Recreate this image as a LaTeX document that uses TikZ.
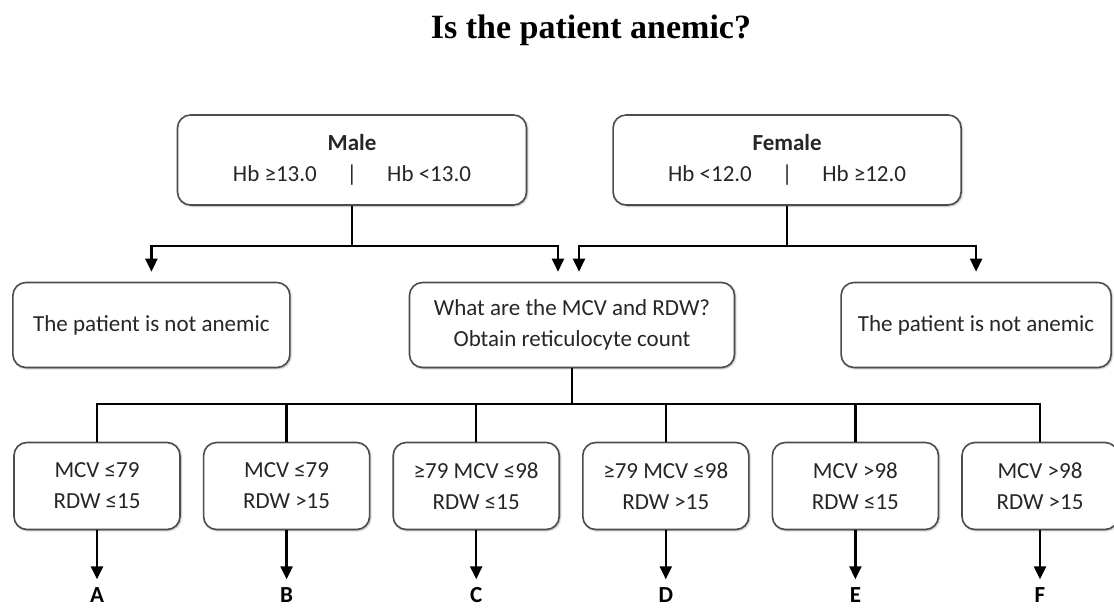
\documentclass[tikz,border=0pt]{standalone}
\usepackage{fontspec}
\setmainfont{Carlito}
\newfontfamily\titlefont{Liberation Serif}
\usetikzlibrary{shapes,arrows.meta,positioning,shadows.blur}
\tikzstyle{block} = [rectangle, draw=black!70, line width=1.6pt, fill=white,
    text=black!85, align=center, rounded corners=13pt,
    font=\fontsize{23}{31}\selectfont,
    blur shadow={shadow xshift=1pt, shadow yshift=-1pt, shadow blur steps=6, shadow opacity=35}]
\tikzstyle{test} = [block, minimum width=166pt, minimum height=87pt]
\tikzstyle{line} = [draw, line width=2.4pt]
\tikzstyle{arrow} = [line, -{Triangle[width=12pt,length=13pt]}]
\tikzstyle{letter} = [inner sep=0pt, font=\bfseries\fontsize{23}{23}\selectfont]

\begin{document}
\begin{tikzpicture}[x=1pt, y=-1pt, node distance=20pt]
  \useasboundingbox (0,0) rectangle (1114,609);
  \node [anchor=base, font=\titlefont\bfseries\fontsize{34}{40}\selectfont] (title) at (591,39) {Is the patient anemic?};

  \node [block, minimum width=349pt, minimum height=90pt] (male) at (352,160) {\textbf{Male}\\Hb ≥13.0\hspace{1.3em}|\hspace{1.3em}Hb <13.0};
  \node [block, minimum width=348pt, minimum height=90pt, right=85pt of male] (female) {\textbf{Female}\\Hb <12.0\hspace{1.3em}|\hspace{1.3em}Hb ≥12.0};

  \node [block, minimum width=325pt, minimum height=85pt] (mcv) at (572,325) {What are the MCV and RDW?\\Obtain reticulocyte count};
  \node [block, minimum width=277pt, minimum height=85pt, left=118pt of mcv] (notm) {The patient is not anemic};
  \node [block, minimum width=270pt, minimum height=85pt, right=105pt of mcv] (notf) {The patient is not anemic};

  \node [test] (a) at (97,486) {MCV ≤79\\RDW ≤15};
  \node [test, right=22pt of a] (b) {MCV ≤79\\RDW >15};
  \node [test, right=22pt of b] (c) {≥79 MCV ≤98\\RDW ≤15};
  \node [test, right=22pt of c] (d) {≥79 MCV ≤98\\RDW >15};
  \node [test, right=22pt of d] (e) {MCV >98\\RDW ≤15};
  \node [test, right=22pt of e, minimum width=156pt] (f) {MCV >98\\RDW >15};

  \foreach \x/\l in {a/A, b/B, c/C, d/D, e/E, f/F}
    \node [letter, below=57pt of \x] (l\x) {\l};

  \coordinate [below=40pt of male] (mj);
  \coordinate [below=40pt of female] (fj);
  \draw [line] (male) -- (mj);
  \draw [line] (female) -- (fj);
  \draw [arrow, shorten >=10pt] (mj) -| (notm);
  \draw [arrow, shorten >=10pt] (mj) -| ([xshift=-14pt]mcv.north);
  \draw [arrow, shorten >=10pt] (fj) -| ([xshift=7pt]mcv.north);
  \draw [arrow, shorten >=10pt] (fj) -| (notf);

  \coordinate [below=36pt of mcv] (bj);
  \draw [line] (mcv) -- (bj);
  \draw [line] (a) |- (bj) -| (f);
  \foreach \x in {b,c,d,e}
    \draw [line] (bj -| \x.north) -- (\x);

  \foreach \x in {a,b,c,d,e,f}
    \draw [arrow, shorten >=8pt] (\x) -- (l\x);
\end{tikzpicture}
\end{document}
